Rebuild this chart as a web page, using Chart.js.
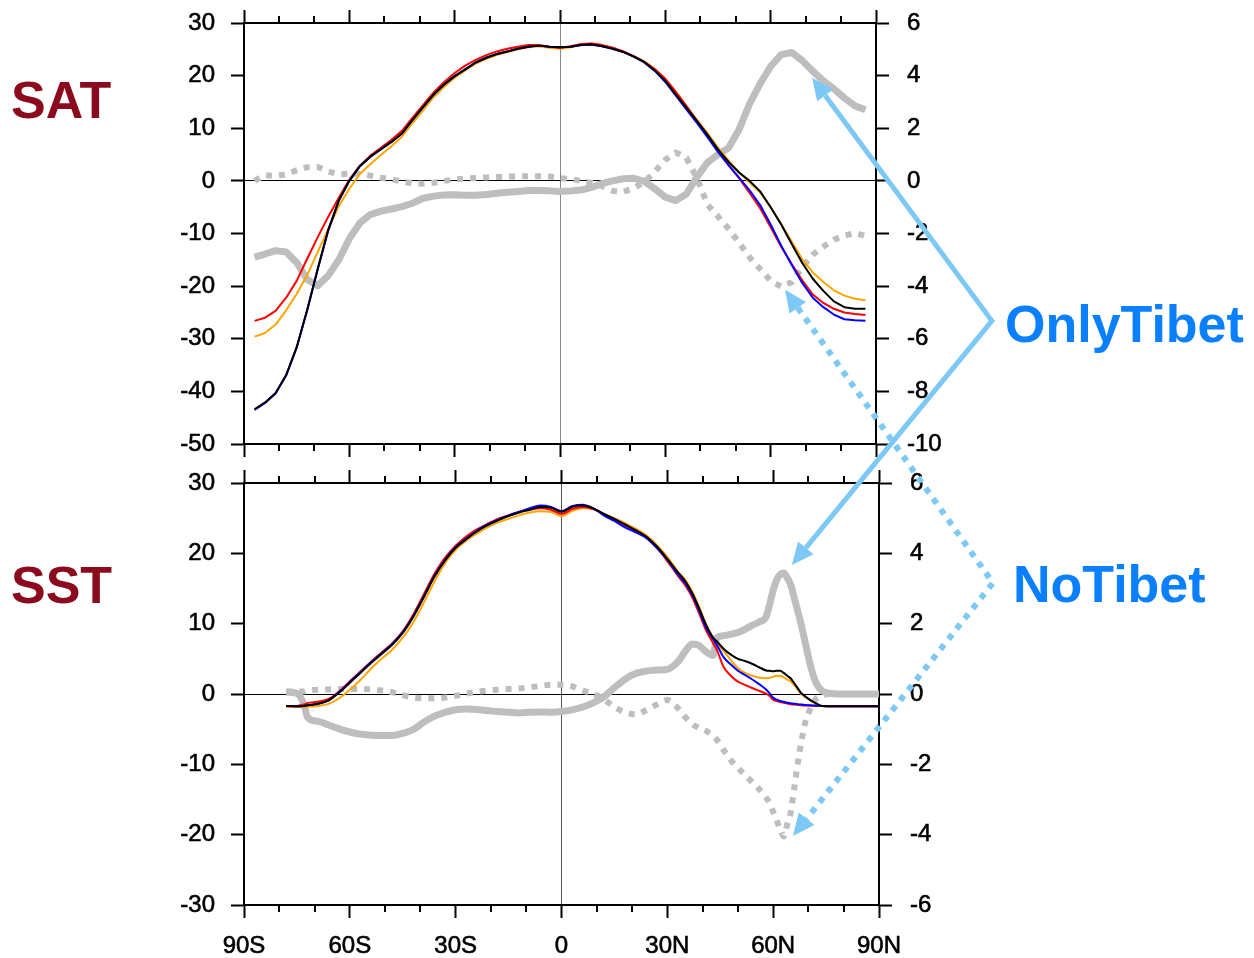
<!DOCTYPE html>
<html>
<head>
<meta charset="utf-8">
<script src="https://cdn.jsdelivr.net/npm/chart.js@4.4.1/dist/chart.umd.min.js"></script>
<style>
  html, body { margin: 0; padding: 0; background: #fff; }
  body { width: 1254px; height: 958px; position: relative; overflow: hidden; }
  canvas { position: absolute; left: 0; top: -20px; }
  .lbl { position: absolute; font-family: "Liberation Sans", Arial, sans-serif; font-weight: bold;
         font-size: 52px; line-height: 52px; white-space: nowrap; z-index: 5; }
  .var { color: #8C0A1E; }
  .exp { color: #0A80FF; }
</style>
</head>
<body>
<canvas id="topChart" width="1254" height="978"></canvas>
<canvas id="botChart" width="1254" height="978"></canvas>
<div class="lbl var" style="left:11px;top:74px;">SAT</div>
<div class="lbl var" style="left:11px;top:559px;">SST</div>
<div class="lbl exp" style="left:1005px;top:298px;">OnlyTibet</div>
<div class="lbl exp" style="left:1013px;top:558px;">NoTibet</div>
<script>
// ---------------- DATA ----------------
// Top panel (SAT), latitudes
const satLat = [-87,-84,-81,-78,-75,-72,-69,-66,-63,-60,-57,-54,-51,-48,-45,-42,-39,-36,-33,-30,-27,-24,-21,-18,-15,-12,-9,-6,-3,0,3,6,9,12,15,18,21,24,27,30,33,36,39,42,45,48,51,54,57,60,63,66,69,72,75,78,81,84,87];
const satBlack = [-43.4,-42.1,-40.3,-36.9,-31.6,-24.5,-16.7,-9.3,-3.7,0.0,2.8,4.6,6.0,7.4,9.0,11.6,14.0,16.4,18.3,19.9,21.2,22.5,23.4,24.1,24.6,25.1,25.5,25.7,25.5,25.4,25.5,25.8,25.9,25.6,25.1,24.5,23.6,22.6,21.0,19.0,16.4,13.9,11.4,8.8,6.0,3.6,1.6,0.0,-2.0,-5.0,-8.3,-12.0,-15.6,-18.6,-20.9,-22.9,-24.0,-24.3,-24.3];
const satBlue  = [-43.5,-42.2,-40.4,-37.0,-31.7,-24.6,-16.8,-9.4,-3.8,0.0,2.8,4.6,6.0,7.4,9.0,11.6,14.0,16.4,18.3,19.9,21.2,22.5,23.4,24.1,24.6,25.1,25.5,25.7,25.5,25.4,25.5,25.8,25.9,25.6,25.1,24.5,23.6,22.5,20.9,18.8,16.2,13.6,11.0,8.3,5.5,3.0,0.6,-1.8,-4.6,-8.3,-12.3,-16.0,-19.4,-22.2,-24.0,-25.4,-26.3,-26.5,-26.6];
const satRed   = [-26.6,-26.0,-24.7,-22.2,-19.0,-14.8,-10.7,-6.8,-3.2,0.2,2.9,4.8,6.3,7.8,9.5,12.0,14.4,16.8,18.8,20.5,21.9,23.0,23.9,24.6,25.1,25.5,25.8,25.8,25.5,25.3,25.6,26.0,26.1,25.8,25.3,24.6,23.7,22.6,21.2,19.4,16.9,14.2,11.4,8.6,5.6,3.0,0.5,-2.3,-5.2,-8.8,-12.5,-15.8,-18.9,-21.6,-23.2,-24.3,-25.0,-25.3,-25.5];
const satOrange= [-29.6,-28.9,-27.3,-24.6,-21.5,-17.9,-13.5,-9.2,-4.8,-1.5,1.3,3.2,4.9,6.6,8.4,11.0,13.4,15.9,17.9,19.6,21.0,22.3,23.2,23.9,24.5,25.0,25.4,25.6,25.3,25.1,25.4,25.9,26.1,25.8,25.3,24.6,23.7,22.7,21.3,19.4,16.9,14.2,11.6,9.1,6.3,3.9,1.6,-0.3,-2.2,-5.0,-8.2,-11.5,-14.9,-17.4,-19.2,-20.8,-21.8,-22.4,-22.7];
const satOnly  = [-2.9,-2.78,-2.65,-2.7,-3.1,-3.75,-3.98,-3.6,-3.0,-2.2,-1.6,-1.28,-1.15,-1.07,-0.98,-0.85,-0.66,-0.58,-0.54,-0.53,-0.55,-0.55,-0.52,-0.47,-0.43,-0.40,-0.37,-0.37,-0.38,-0.4,-0.38,-0.35,-0.25,-0.1,0.0,0.08,0.1,-0.02,-0.3,-0.62,-0.75,-0.5,0.15,0.7,1.0,1.25,1.95,2.93,3.7,4.35,4.8,4.88,4.57,4.17,3.8,3.5,3.15,2.85,2.7];
const satNo    = [0.0,0.22,0.18,0.25,0.4,0.52,0.53,0.36,0.25,0.27,0.27,0.2,0.12,0.06,-0.03,-0.09,-0.11,-0.07,0.0,0.05,0.09,0.11,0.13,0.15,0.16,0.17,0.18,0.18,0.17,0.1,0.07,0.0,-0.08,-0.2,-0.38,-0.42,-0.28,-0.05,0.35,0.8,1.08,0.87,0.1,-0.9,-1.35,-1.82,-2.35,-2.9,-3.35,-3.8,-4.02,-3.85,-3.3,-2.8,-2.5,-2.24,-2.08,-1.98,-2.1];

// Bottom panel (SST), latitudes
const sstLat = [-78,-75,-73,-72,-69,-66,-63,-60,-57,-54,-51,-48,-45,-42,-39,-36,-33,-30,-27,-24,-21,-18,-15,-12,-9,-6,-3,0,3,6,9,12,15,18,21,24,27,30,33,35,37,39,41,43,44,46,48,50,52,54,56,58,59,60,61,62,63,64,65,66,67,68,69,70,71,72,73,74,76,78,81,84,87,90];
const sstBlack = [-1.7,-1.75,-1.7,-1.6,-1.4,-0.9,0.2,1.6,3.0,4.4,5.7,7.0,8.7,11.0,13.8,16.7,19.0,20.8,22.0,23.1,24.0,24.7,25.3,25.8,26.2,26.6,26.5,25.9,26.6,26.8,26.4,25.6,24.9,24.1,23.3,22.4,21.0,19.2,17.3,16.1,14.4,12.2,9.8,8.0,7.5,6.4,5.6,5.0,4.7,4.3,3.8,3.35,3.3,3.25,3.3,3.3,3.0,2.6,2.2,1.5,0.8,0.1,-0.3,-0.7,-1.0,-1.3,-1.55,-1.7,-1.75,-1.75,-1.75,-1.75,-1.75,-1.75];
const sstBlue  = [-1.7,-1.75,-1.7,-1.6,-1.4,-0.9,0.3,1.7,3.1,4.5,5.8,7.1,8.8,11.1,13.9,16.8,19.1,20.9,22.1,23.2,24.1,24.8,25.4,25.9,26.4,26.8,26.6,26.0,26.7,26.9,26.4,25.4,24.6,23.7,23.0,22.2,20.8,19.1,17.0,15.8,14.1,11.9,9.4,7.8,7.0,5.2,4.2,3.3,2.7,2.1,1.4,0.65,0.1,-0.55,-0.8,-1.0,-1.1,-1.25,-1.3,-1.4,-1.45,-1.5,-1.55,-1.6,-1.62,-1.65,-1.68,-1.7,-1.75,-1.75,-1.75,-1.75,-1.75,-1.75];
const sstRed   = [-1.75,-1.7,-1.5,-1.3,-1.1,-0.7,0.4,1.8,3.2,4.6,5.9,7.2,8.9,11.3,14.2,17.1,19.4,21.1,22.4,23.4,24.2,24.9,25.4,25.9,26.2,26.4,26.2,25.6,26.3,26.6,26.3,25.6,24.8,24.0,23.2,22.3,20.8,18.9,16.8,15.5,13.8,11.5,9.0,7.2,6.3,3.8,2.6,1.75,1.3,0.85,0.45,0.05,-0.3,-0.8,-1.0,-1.15,-1.25,-1.35,-1.45,-1.5,-1.55,-1.6,-1.65,-1.65,-1.68,-1.7,-1.7,-1.72,-1.75,-1.75,-1.75,-1.75,-1.75,-1.75];
const sstOrange= [-1.8,-1.85,-1.85,-1.8,-1.7,-1.4,-0.6,0.6,2.0,3.6,5.0,6.3,8.0,10.2,13.0,16.0,18.6,20.5,21.8,22.8,23.7,24.4,24.9,25.4,25.8,26.0,25.9,25.3,26.0,26.4,26.3,25.6,25.0,24.3,23.5,22.6,21.2,19.5,17.4,16.3,14.6,12.4,9.9,8.0,7.2,6.1,4.8,3.7,3.0,2.6,2.35,2.25,2.3,2.45,2.6,2.55,2.35,2.05,1.75,1.25,0.6,0.0,-0.4,-0.7,-1.05,-1.4,-1.65,-1.7,-1.75,-1.75,-1.75,-1.75,-1.75,-1.75];
const sstOnly  = [0.05,0.02,-0.3,-0.66,-0.78,-0.88,-0.99,-1.08,-1.14,-1.17,-1.18,-1.18,-1.12,-1.01,-0.8,-0.63,-0.52,-0.45,-0.43,-0.44,-0.47,-0.5,-0.52,-0.54,-0.52,-0.51,-0.52,-0.5,-0.45,-0.37,-0.25,-0.08,0.18,0.42,0.58,0.65,0.68,0.7,0.92,1.2,1.42,1.38,1.2,1.1,1.6,1.66,1.7,1.75,1.84,1.95,2.05,2.2,2.55,2.95,3.25,3.4,3.44,3.3,3.1,2.72,2.35,1.95,1.5,1.05,0.65,0.35,0.18,0.08,0.02,0.0,0.0,0.0,0.0,0.0];
const sstNo    = [0.07,0.07,0.07,0.1,0.12,0.13,0.14,0.14,0.14,0.13,0.1,0.05,-0.03,-0.1,-0.12,-0.12,-0.1,-0.05,0.01,0.06,0.1,0.12,0.14,0.16,0.19,0.23,0.26,0.26,0.22,0.1,0.0,-0.15,-0.37,-0.52,-0.58,-0.46,-0.3,-0.17,-0.4,-0.65,-0.85,-0.97,-1.05,-1.2,-1.3,-1.6,-1.88,-2.1,-2.3,-2.5,-2.7,-2.95,-3.1,-3.35,-3.6,-3.85,-4.05,-3.7,-3.35,-2.65,-1.95,-1.35,-0.85,-0.55,-0.32,-0.15,-0.07,-0.03,0.0,0.0,0.0,0.0,0.0,0.0];

// Axis ticks
const latMajor = [-90,-60,-30,0,30,60,90];
const latMinor = [-80,-70,-50,-40,-20,-10,10,20,40,50,70,80];

// Annotation anchors (lat, right-axis value)
const onlyVertex  = [123.0, -5.32];  // in top panel units
const onlyTipTop  = [71.8, 3.92];    // top panel
const onlyTipBot  = [65.3, 3.67];    // bottom panel
const noVertex    = [122.3, 3.16];   // bottom panel units
const noTipTop    = [64.1, -4.14];   // top panel
const noTipBot    = [65.6, -4.04];   // bottom panel

// ---------------- HELPERS ----------------
const FONT = { family: '"Liberation Sans", Arial, sans-serif', size: 24 };
const GRAY = '#BEBEBE';
const ARROW = '#7DC8F4';

function pts(lat, vals) { return lat.map((x, i) => ({ x: x, y: vals[i] })); }
function line(lat, vals, color, width, axis, order, dash, smooth) {
  return {
    data: pts(lat, vals), borderColor: color, borderWidth: width, yAxisID: axis,
    pointRadius: 0, fill: false, order: order, borderDash: dash || [],
    borderCapStyle: 'butt', borderJoinStyle: 'round',
    cubicInterpolationMode: smooth ? 'monotone' : 'default', tension: 0
  };
}
function latLabel(v) { return v === 0 ? '0' : (v < 0 ? (-v) + 'S' : v + 'N'); }

const minorTickPlugin = {
  id: 'minorTicks',
  afterDraw(chart) {
    const ctx = chart.ctx, a = chart.chartArea, xs = chart.scales.x;
    ctx.save();
    ctx.strokeStyle = '#000'; ctx.lineWidth = 2;
    latMinor.forEach(v => {
      const px = Math.round(xs.getPixelForValue(v));
      ctx.beginPath();
      ctx.moveTo(px, a.top); ctx.lineTo(px, a.top - 7);
      ctx.moveTo(px, a.bottom); ctx.lineTo(px, a.bottom + 7);
      ctx.stroke();
    });
    ctx.restore();
  }
};

function scalesFor(yMin, yMax, yStep, y2Min, y2Max, showX, meridianColor) {
  const tickFont = { font: FONT, color: '#000', textStrokeColor: '#000', textStrokeWidth: 0.6 };
  return {
    x: {
      type: 'linear', position: 'bottom', min: -90, max: 90,
      afterBuildTicks: s => { s.ticks = latMajor.map(v => ({ value: v })); },
      ticks: Object.assign({ display: showX, padding: 14, maxRotation: 0, autoSkip: false, callback: latLabel }, tickFont),
      grid: { drawOnChartArea: true, tickLength: 13, tickWidth: 2, tickColor: '#000', lineWidth: 1,
              color: c => (c.tick && c.tick.value === 0) ? meridianColor : 'rgba(0,0,0,0)' },
      border: { display: true, width: 2, color: '#000' },
      afterFit: s => { s.height = showX ? 53 : 13; }
    },
    x2: {
      type: 'linear', position: 'top', min: -90, max: 90,
      afterBuildTicks: s => { s.ticks = latMajor.map(v => ({ value: v })); },
      ticks: { display: false },
      grid: { drawOnChartArea: false, tickLength: 13, tickWidth: 2, tickColor: '#000' },
      border: { display: true, width: 2, color: '#000' },
      afterFit: s => { s.height = 13; }
    },
    y: {
      type: 'linear', position: 'left', min: yMin, max: yMax,
      ticks: Object.assign({ stepSize: yStep, padding: 16, callback: v => String(v) }, tickFont),
      grid: { drawOnChartArea: true, tickLength: 13, tickWidth: 2, tickColor: '#000', lineWidth: 1,
              color: c => (c.tick && c.tick.value === 0) ? '#000' : 'rgba(0,0,0,0)' },
      border: { display: true, width: 2, color: '#000' },
      afterFit: s => { s.width = 110; }
    },
    y2: {
      type: 'linear', position: 'right', min: y2Min, max: y2Max,
      ticks: Object.assign({ stepSize: 2, padding: 18, callback: v => String(v) }, tickFont),
      grid: { drawOnChartArea: false, tickLength: 13, tickWidth: 2, tickColor: '#000' },
      border: { display: true, width: 2, color: '#000' },
      afterFit: s => { s.width = 100; }
    }
  };
}

// ---------------- TOP CHART (SAT) ----------------
// canvases are shifted up 20px on the page, so paddings include +20 at the top
const topChart = new Chart(document.getElementById('topChart'), {
  type: 'line',
  data: { datasets: [
    line(satLat, satOnly,  GRAY, 7, 'y2', 6, null, false),
    line(satLat, satNo,    GRAY, 6, 'y2', 5, [6, 7], false),
    line(satLat, satOrange,'#FFA500', 2, 'y', 4, null, false),
    line(satLat, satRed,   '#FF0000', 2, 'y', 3, null, false),
    line(satLat, satBlue,  '#0000FF', 2, 'y', 2, null, false),
    line(satLat, satBlack, '#000000', 2, 'y', 1, null, false)
  ]},
  options: {
    responsive: false, animation: false, events: [],
    layout: { padding: { left: 134, right: 278, top: 30, bottom: 501 } },
    plugins: { legend: { display: false }, tooltip: { enabled: false } },
    scales: scalesFor(-50, 30, 10, -10, 6, false, '#888')
  },
  plugins: [minorTickPlugin]
});

// ---------------- BOTTOM CHART (SST) + annotations ----------------
function drawArrowPath(ctx, pts, dashed) {
  // pts: [tipA, vertex, tipB] in pixels; arrowheads at tipA and tipB
  const L = 22, W = 10;
  function base(tip, from) {
    const dx = tip[0] - from[0], dy = tip[1] - from[1];
    const d = Math.hypot(dx, dy), ux = dx / d, uy = dy / d;
    return { b: [tip[0] - ux * L, tip[1] - uy * L], ux, uy };
  }
  const A = base(pts[0], pts[1]), B = base(pts[2], pts[1]);
  ctx.save();
  ctx.strokeStyle = ARROW; ctx.fillStyle = ARROW;
  ctx.lineWidth = dashed ? 6 : 5;
  ctx.lineJoin = 'miter'; ctx.lineCap = 'butt';
  ctx.setLineDash(dashed ? [6, 7] : []);
  ctx.beginPath();
  ctx.moveTo(A.b[0], A.b[1]); ctx.lineTo(pts[1][0], pts[1][1]); ctx.lineTo(B.b[0], B.b[1]);
  ctx.stroke();
  ctx.setLineDash([]);
  [[pts[0], A], [pts[2], B]].forEach(([tip, o]) => {
    ctx.beginPath();
    ctx.moveTo(tip[0], tip[1]);
    ctx.lineTo(o.b[0] - o.uy * W, o.b[1] + o.ux * W);
    ctx.lineTo(o.b[0] + o.uy * W, o.b[1] - o.ux * W);
    ctx.closePath(); ctx.fill();
  });
  ctx.restore();
}

const annotationPlugin = {
  id: 'tibetArrows',
  afterDraw(chart) {
    const tx = topChart.scales.x, ty = topChart.scales.y2;
    const bx = chart.scales.x, by = chart.scales.y2;
    const T = p => [tx.getPixelForValue(p[0]), ty.getPixelForValue(p[1])];
    const B = p => [bx.getPixelForValue(p[0]), by.getPixelForValue(p[1])];
    drawArrowPath(chart.ctx, [T(onlyTipTop), T(onlyVertex), B(onlyTipBot)], false);
    drawArrowPath(chart.ctx, [T(noTipTop), B(noVertex), B(noTipBot)], true);
  }
};

const botChart = new Chart(document.getElementById('botChart'), {
  type: 'line',
  data: { datasets: [
    line(sstLat, sstOnly,  GRAY, 7, 'y2', 6, null, true),
    line(sstLat, sstNo,    GRAY, 6, 'y2', 5, [6, 7], true),
    line(sstLat, sstOrange,'#FFA500', 2, 'y', 4, null, true),
    line(sstLat, sstRed,   '#FF0000', 2, 'y', 3, null, true),
    line(sstLat, sstBlue,  '#0000FF', 2, 'y', 2, null, true),
    line(sstLat, sstBlack, '#000000', 2, 'y', 1, null, true)
  ]},
  options: {
    responsive: false, animation: false, events: [],
    layout: { padding: { left: 134, right: 275, top: 490, bottom: 0 } },
    plugins: { legend: { display: false }, tooltip: { enabled: false } },
    scales: scalesFor(-30, 30, 10, -6, 6, true, '#555')
  },
  plugins: [minorTickPlugin, annotationPlugin]
});
</script>
</body>
</html>
